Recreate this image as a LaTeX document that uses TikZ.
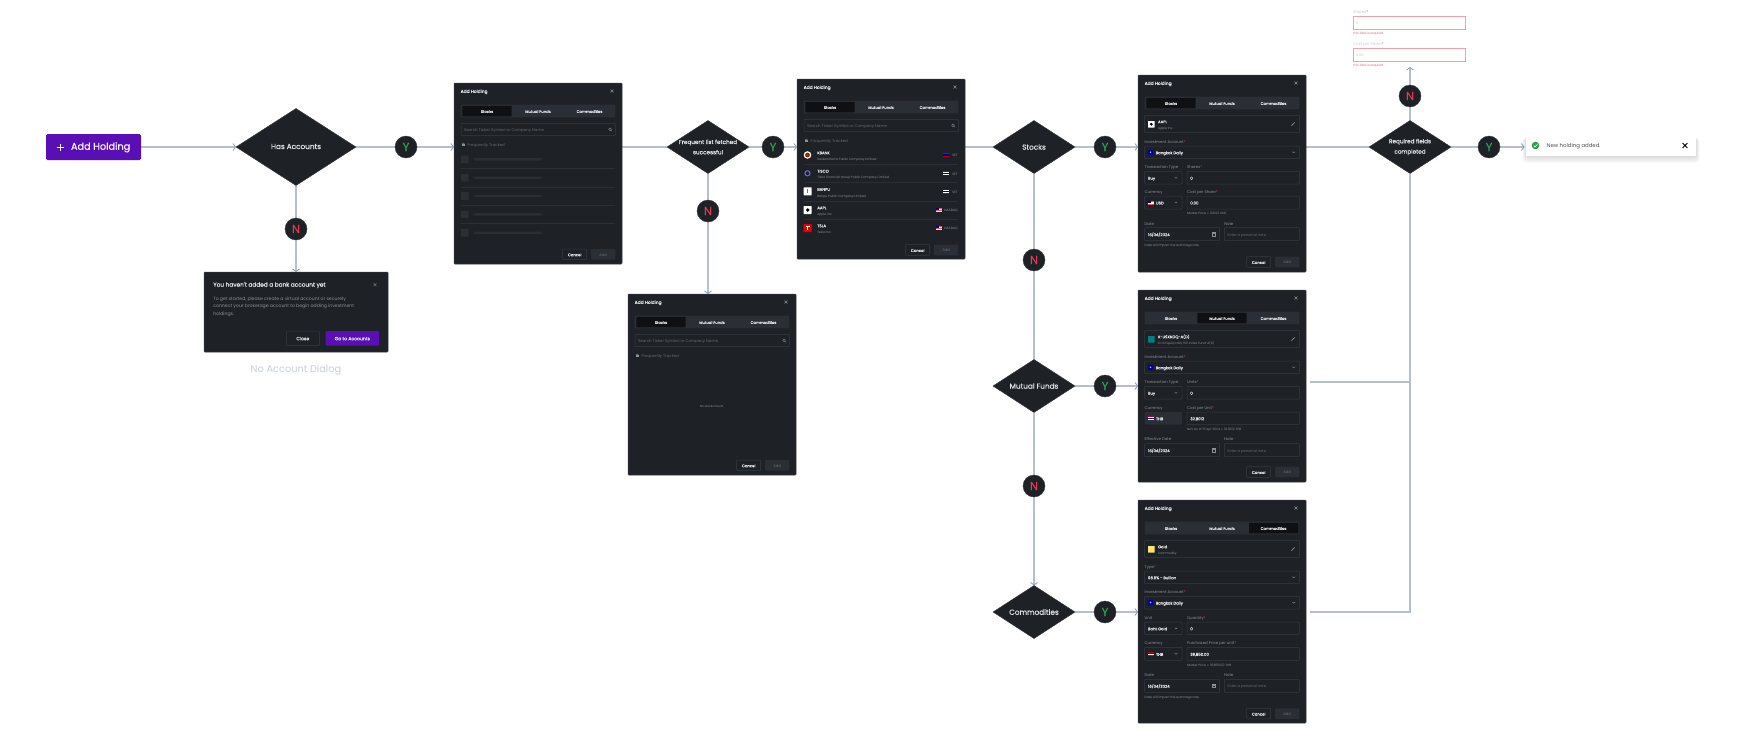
\documentclass[tikz,border=0pt]{standalone}
\usepackage{fontspec}
\setmainfont{Poppins}
\newfontfamily\medfont{Poppins}[FakeBold=0.35]
\usetikzlibrary{shapes.geometric,arrows.meta}
\definecolor{ink}{HTML}{1E2227}
\definecolor{edge}{HTML}{363B42}
\definecolor{tabbg}{HTML}{2A2F36}
\definecolor{tabon}{HTML}{0E1013}
\definecolor{conncol}{HTML}{B5C0CD}
\definecolor{tipcol}{HTML}{8E9CAE}
\definecolor{labcol}{HTML}{8B9199}
\definecolor{valcol}{HTML}{E4E6E9}
\definecolor{phcol}{HTML}{646A72}
\definecolor{reqred}{HTML}{E5484D}
\definecolor{btnpurple}{HTML}{5A0FB6}
\definecolor{yescol}{HTML}{2E9E4F}
\definecolor{nocol}{HTML}{E5395A}
\definecolor{errline}{HTML}{F2A0AC}
\definecolor{errtext}{HTML}{E5607A}
\definecolor{softlab}{HTML}{C8CFDA}
\pgfdeclarelayer{under}\pgfsetlayers{under,main}
\newcounter{tc}
\tikzset{
  fs/.style={font=\fontsize{#1}{#1}\selectfont},
  txt/.style={inner sep=0pt,outer sep=0pt,anchor=mid west,text=labcol,yshift=.8pt},
  val/.style={text=valcol,execute at begin node=\medfont},
  conn/.style={draw=conncol,line width=1.5pt},
  conna/.style={conn,-{Straight Barb[length=2.6pt,width=7pt,line width=.8pt,color=tipcol]}},
  dlgbox/.style={draw=edge,line width=.5pt,fill=ink,rounded corners=.8pt,inner sep=0pt,outer sep=0pt,minimum width=168pt,anchor=north west},
  dec/.style={diamond,fill=ink,draw=edge,line width=.4pt,inner sep=0pt,outer sep=0pt},
  dectext/.style={inner sep=0pt,text=valcol,align=center,font=\medfont\fontsize{7.3}{10.3}\selectfont},
  dectwo/.style={dectext,font=\medfont\fontsize{5.7}{10.3}\selectfont},
  yn/.style={circle,fill=ink,draw=edge,line width=.4pt,minimum size=22pt,inner sep=0pt,outer sep=0pt,font=\medfont\fontsize{11.5}{11.5}\selectfont},
  field/.style={draw=edge,line width=.5pt,rounded corners=.8pt},
  icon/.style={draw=labcol,line width=.4pt},
  errbox/.style={draw=errline,line width=.8pt,fill=white,inner sep=0pt,outer sep=0pt,anchor=north west,minimum width=112.5pt,minimum height=13pt},
}
\newcommand{\tx}[5][]{\stepcounter{tc}\node[txt,fs=#4,#1] (t\thetc) at (#2,#3) {#5};}
\newcommand{\closex}[2]{\draw[icon] (#1-1.4,#2-1.4) -- (#1+1.4,#2+1.4) (#1-1.4,#2+1.4) -- (#1+1.4,#2-1.4);}
\newcommand{\chev}[2]{\draw[icon] (#1-1.3,#2-.6) -- (#1,#2+.6) -- (#1+1.3,#2-.6);}
\newcommand{\fb}[4]{\draw[field] (#1,#2) rectangle (#3,#4);}
\newcommand{\req}{\textcolor{reqred}{ *}}
\newcommand{\thflag}[2]{\fill[red!75!black] (#1-3,#2-2) rectangle (#1+3,#2+2);\fill[white] (#1-3,#2-1.3) rectangle (#1+3,#2+1.3);\fill[blue!60!black] (#1-3,#2-.6) rectangle (#1+3,#2+.6);}
\newcommand{\usflag}[2]{\fill[red!70!white] (#1-3,#2-2) rectangle (#1+3,#2+2);\fill[white] (#1-3,#2-.7) rectangle (#1+3,#2+.1);\fill[white] (#1-3,#2+.9) rectangle (#1+3,#2+1.4);\fill[blue!55!black] (#1-3,#2-2) rectangle (#1,#2);}
\newcommand{\lockic}[2]{\fill[labcol] (#1-1.3,#2-.4) rectangle (#1+1.3,#2+1.5);\draw[icon] (#1,#2-.4) circle[radius=1pt];}
\newcommand{\magn}[2]{\draw[icon] (#1,#2) circle[radius=1.4pt] (#1+1,#2+1) -- (#1+2,#2+2);}
\newcommand{\pencil}[2]{\draw[labcol,line width=.7pt] (#1-1.6,#2+1.6) -- (#1+1.6,#2-1.6);}
\newcommand{\calic}[2]{\draw[icon] (#1-1.8,#2-1.8) rectangle (#1+1.8,#2+1.8) (#1-1.8,#2-.7) -- (#1+1.8,#2-.7);}
% header common to all dialogs; #1 active tab
\newcommand{\dlghead}[1]{%
  \tx[val]{6.7}{8}{4.4}{Add Holding}
  \closex{158}{8}
  \fill[tabbg,rounded corners=.8pt] (6.7,21.7) rectangle (161.3,34.3);
  \ifcase#1\or
    \fill[tabon,rounded corners=.6pt] (8.3,22.8) rectangle (57.7,33.3);
  \or
    \fill[tabon,rounded corners=.6pt] (59.3,22.8) rectangle (108.7,33.3);
  \or
    \fill[tabon,rounded corners=.6pt] (111,22.8) rectangle (160.3,33.3);
  \fi
  \tx[anchor=mid,val]{33}{28}{3.8}{Stocks}
  \tx[anchor=mid,val]{84}{28}{3.8}{Mutual Funds}
  \tx[anchor=mid,val]{135.5}{28}{3.8}{Commodities}
}
\newcommand{\btns}[1]{%
  \fb{108.7}{#1}{132.7}{#1+10.6}
  \tx[anchor=mid,val]{120.7}{#1+5.3}{3.8}{Cancel}
  \fill[tabbg,rounded corners=.8pt] (137,#1) rectangle (161.3,#1+10.6);
  \tx[anchor=mid,text=phcol]{149.2}{#1+5.3}{3.8}{Add}
}
\newcommand{\acct}[1]{%
  \fb{6.7}{#1}{161.3}{#1+12.7}
  \fill[blue!60!black,rounded corners=.5pt] (10,#1+3.8) rectangle (15,#1+8.8);
  \fill[white!70!blue] (12.5,#1+6.3) circle[radius=.9pt];
  \tx[val]{17.7}{#1+6.3}{3.9}{Bangkok Daily}
  \chev{155.7}{#1+6.3}
}
\newcommand{\searchrow}{%
  \fb{7}{40.3}{161.3}{52.7}
  \tx[text=phcol]{10}{46.5}{3.9}{Search Ticker Symbol or Company Name}
  \magn{156}{46.3}
  \lockic{9.3}{61.3}
  \tx[text=phcol]{13.7}{61.3}{3.9}{Frequently Tracked}
}
\newcommand{\skel}[1]{%
  \fill[tabbg,rounded corners=.5pt] (7,#1-3.8) rectangle (14.7,#1+3.8);
  \fill[tabbg,rounded corners=.8pt] (20,#1-1.2) rectangle (87.7,#1+1.2);
}
\newcommand{\stockrow}[4]{%
  \tx[val]{20.3}{#1-2.7}{3.9}{#2}
  \tx[text=labcol]{20.3}{#1+3.7}{3.1}{#3}
  \tx[anchor=mid east,text=labcol]{160.7}{#1}{3.2}{#4}
}
\begin{document}
\begin{tikzpicture}[x=1pt,y=-1pt]
\begin{pgfonlayer}{under}
\fill[white] (0,0) rectangle (1742,747);
\end{pgfonlayer}
\path[use as bounding box] (0,0) rectangle (1742,747);

% start button
\node[fill=btnpurple,rounded corners=1.5pt,minimum width=95pt,minimum height=26pt,inner sep=0pt,outer sep=0pt] (add) at (93.5,147) {};
\draw[white,line width=.9pt] (56.5,147) -- (63.5,147) (60,143.5) -- (60,150.5);
\tx[text=white,execute at begin node=\medfont]{71}{147.8}{9.7}{Add Holding}

% decisions
\node[dec,minimum width=120pt,minimum height=77pt] (hasacc) at (296,147) {};
\node[dectext] (hasacct) at ([yshift=.5pt]hasacc.center) {Has Accounts};
\node[dec,minimum width=82pt,minimum height=53pt] (freq) at (708,147) {};
\node[dectwo] (freqt) at (freq) {Frequent list fetched\\successful};
\node[dec,minimum width=82pt,minimum height=53pt] (stocks) at (1034,147) {};
\node[dectext] (stockst) at (stocks) {Stocks};
\node[dec,minimum width=82pt,minimum height=53pt] (mutual) at (1034,386) {};
\node[dectext] (mutualt) at (mutual) {Mutual Funds};
\node[dec,minimum width=82pt,minimum height=53pt] (commod) at (1034,612) {};
\node[dectext] (commodt) at (commod) {Commodities};
\node[dec,minimum width=82pt,minimum height=53pt] (reqd) at (1410,147) {};
\node[dectwo] (reqdt) at (reqd) {Required fields\\completed};

% yes / no badges
\node[yn,text=yescol] (y1) at (406,147) {Y};
\node[yn,text=nocol]  (n1) at (296,229) {N};
\node[yn,text=yescol] (y2) at (773,147) {Y};
\node[yn,text=nocol]  (n2) at (708,211) {N};
\node[yn,text=yescol] (y3) at (1105,147) {Y};
\node[yn,text=nocol]  (n3) at (1034,260) {N};
\node[yn,text=yescol] (y4) at (1105,386) {Y};
\node[yn,text=nocol]  (n4) at (1034,486) {N};
\node[yn,text=yescol] (y5) at (1105,612) {Y};
\node[yn,text=yescol] (y6) at (1489,147) {Y};
\node[yn,text=nocol]  (n6) at (1410,96) {N};

% no account dialog
\node[dlgbox,minimum width=184pt,minimum height=80pt] (noacc) at (204,272) {};
\begin{scope}[shift={(204,272)}]
  \tx[val]{9.3}{12.7}{5.8}{You haven't added a bank account yet}
  \closex{171}{12.7}
  \tx{9.3}{26.3}{4.6}{To get started, please create a virtual account or securely}
  \tx{9.3}{33.7}{4.6}{connect your brokerage account to begin adding investment}
  \tx{9.3}{41.3}{4.6}{holdings.}
  \fb{82.3}{59}{115.3}{73.7}
  \tx[anchor=mid,val]{98.8}{66.3}{4.6}{Close}
  \fill[btnpurple,rounded corners=.8pt] (121.7,59) rectangle (175,73.7);
  \tx[anchor=mid,val]{148.3}{66.3}{4.6}{Go to Accounts}
\end{scope}
\tx[anchor=mid,text=softlab]{296}{370.3}{9.8}{No Account Dialog}

% loading dialog
\node[dlgbox,minimum height=181pt] (load) at (454,83) {};
\begin{scope}[shift={(454,83)}]
  \dlghead{1}
  \searchrow
  \skel{76.3}\skel{94.7}\skel{113}\skel{131.3}\skel{149.7}
  \foreach \ly in {85.3,103.7,122,140.3}{\draw[tabbg,line width=.25pt] (7,\ly) -- (161.3,\ly);}
  \btns{166}
\end{scope}

% empty dialog
\node[dlgbox,minimum height=181pt] (empty) at (628,294) {};
\begin{scope}[shift={(628,294)}]
  \dlghead{1}
  \searchrow
  \tx[anchor=mid,text=labcol]{83.5}{111.7}{2.9}{No stocks found}
  \btns{166}
\end{scope}

% list dialog
\node[dlgbox,minimum height=180pt] (list) at (797,79) {};
\begin{scope}[shift={(797,79)}]
  \dlghead{1}
  \searchrow
  \stockrow{76}{KBANK}{Kasikornbank Public Company Limited}{SET}
  \stockrow{94.3}{TISCO}{Tisco Financial Group Public Company Limited}{SET}
  \stockrow{112.6}{BANPU}{Banpu Public Company Limited}{SET}
  \stockrow{131}{AAPL}{Apple Inc.}{NASDAQ}
  \stockrow{149}{TSLA}{Tesla Inc.}{NASDAQ}
  \foreach \ly in {85.3,103.5,121.8,140}{\draw[tabbg,line width=.25pt] (7,\ly) -- (161.3,\ly);}
  \fill[white] (10.5,76) circle[radius=3.8pt];
  \fill[red!80!black] (10.5,76) circle[radius=2.4pt];
  \fill[green!55!black] (10.5,76) circle[radius=1.3pt];
  \draw[blue!60!white,line width=1pt] (10.5,94.3) circle[radius=2.6pt];
  \fill[white,rounded corners=.5pt] (6.7,108.3) rectangle (14.7,116.3);
  \fill[blue!60!white] (10,110.3) rectangle (11.4,114.3);
  \fill[white,rounded corners=.5pt] (6.7,127) rectangle (14.7,135);
  \fill[black] (10.7,131) circle[radius=1.8pt];
  \fill[red!90!black,rounded corners=.5pt] (6.7,145) rectangle (14.7,153);
  \draw[white,line width=.7pt] (8.7,147.3) -- (12.7,147.3) (10.7,147.3) -- (10.7,151);
  \thflag{149}{76}\thflag{149}{94.3}\thflag{149}{112.6}
  \usflag{141.7}{131}\usflag{141.7}{149}
  \btns{165.7}
\end{scope}

% stocks form
\node[dlgbox,minimum height=197pt] (fstocks) at (1138,75) {};
\begin{scope}[shift={(1138,75)}]
  \dlghead{1}
  \fb{6.7}{40.3}{161.3}{57.7}
  \fill[white,rounded corners=.4pt] (10,46) rectangle (16.7,52.5);
  \fill[black] (13.3,49.2) circle[radius=1.6pt];
  \tx[val]{20}{46.3}{3.9}{AAPL}
  \tx{20}{52.6}{3.1}{Apple Inc.}
  \pencil{155}{49}
  \tx{6.7}{66.3}{3.9}{Investment Account\req}
  \acct{71}
  \tx{6.7}{92}{3.9}{Transaction Type}
  \tx{49}{92}{3.9}{Shares\req}
  \fb{6.7}{96.3}{44}{109}\fb{49}{96.3}{161.3}{109}
  \tx[val]{10}{102.7}{3.9}{Buy}\chev{38}{102.7}
  \tx[val]{52.3}{102.7}{3.9}{0}
  \tx{6.7}{116.7}{3.9}{Currency}
  \tx{49}{116.7}{3.9}{Cost per Share\req}
  \fb{6.7}{121}{44}{134}\fb{49}{121}{161.3}{134}
  \usflag{13}{127.5}\tx[val]{18}{127.5}{3.9}{USD}\chev{38}{127.5}
  \tx[val]{52.3}{127.5}{3.9}{0.00}
  \tx{49}{137.7}{3.1}{Market Price = 100.00 USD}
  \tx{6.7}{148.3}{3.9}{Date}
  \tx{86.3}{148.3}{3.9}{Note}
  \fb{6.7}{152.7}{81.7}{165.7}\fb{86.3}{152.7}{161.3}{165.7}
  \tx[val]{10}{159.2}{3.9}{16/04/2024}\calic{75.7}{159.2}
  \tx[text=phcol]{89.7}{159.2}{3.6}{Enter a personal note}
  \tx{6.7}{169.7}{3.1}{Date will impact the exchange rate.}
  \btns{181.7}
\end{scope}

% mutual funds form
\node[dlgbox,minimum height=192pt] (fmutual) at (1138,290) {};
\begin{scope}[shift={(1138,290)}]
  \dlghead{2}
  \fb{6.7}{40.3}{161.3}{57.7}
  \fill[teal,rounded corners=.4pt] (10,46) rectangle (16.7,52.5);
  \tx[val]{20}{46.3}{3.9}{K-USXNDQ-A(D)}
  \tx{20}{52.6}{3.1}{K US Equity NDQ 100 Index Fund-A(D)}
  \pencil{155}{49}
  \tx{6.7}{66.3}{3.9}{Investment Account\req}
  \acct{71}
  \tx{6.7}{91.7}{3.9}{Transaction Type}
  \tx{49}{91.7}{3.9}{Units\req}
  \fb{6.7}{96.3}{44}{109}\fb{49}{96.3}{161.3}{109}
  \tx[val]{10}{102.7}{3.9}{Buy}\chev{38}{102.7}
  \tx[val]{52.3}{102.7}{3.9}{0}
  \tx{6.7}{117.3}{3.9}{Currency}
  \tx{49}{117.3}{3.9}{Cost per Unit\req}
  \fill[tabbg,rounded corners=.8pt] (6.7,122) rectangle (44,134.7);
  \fb{49}{122}{161.3}{134.7}
  \thflag{13}{128.3}\tx[val]{18}{128.3}{3.9}{THB}
  \tx[val]{52.3}{128.3}{3.9}{32.8012}
  \tx{49}{138.7}{3.1}{NAV as of 15 Apr 2024 = 32.8012 THB}
  \tx{6.7}{149}{3.9}{Effective Date}
  \tx{86.3}{149}{3.9}{Note}
  \fb{6.7}{153.7}{81.7}{166.7}\fb{86.3}{153.7}{161.3}{166.7}
  \tx[val]{10}{160.2}{3.9}{16/04/2024}\calic{75.7}{160.2}
  \tx[text=phcol]{89.7}{160.2}{3.6}{Enter a personal note}
  \btns{176.7}
\end{scope}

% commodities form
\node[dlgbox,minimum height=223pt] (fcommod) at (1138,500) {};
\begin{scope}[shift={(1138,500)}]
  \dlghead{3}
  \fb{6.7}{40.3}{161.3}{57.7}
  \fill[orange!40!yellow!55!white,rounded corners=.4pt] (10,46) rectangle (16.7,52.5);
  \tx[val]{20}{46.3}{3.9}{Gold}
  \tx{20}{52.6}{3.1}{Commodity}
  \pencil{155}{49}
  \tx{6.7}{66.3}{3.9}{Type\req}
  \fb{6.7}{71}{161.3}{83.7}
  \tx[val]{10}{77.3}{3.9}{96.5\% - Bullion}\chev{155.7}{77.3}
  \tx{6.7}{91.3}{3.9}{Investment Account\req}
  \acct{96.3}
  \tx{6.7}{117.3}{3.9}{Unit}
  \tx{49}{117.3}{3.9}{Quantity\req}
  \fb{6.7}{122}{44}{134.7}\fb{49}{122}{161.3}{134.7}
  \tx[val]{10}{128.3}{3.9}{Baht Gold}\chev{38}{128.3}
  \tx[val]{52.3}{128.3}{3.9}{0}
  \tx{6.7}{142.7}{3.9}{Currency}
  \tx{49}{142.7}{3.9}{Purchased Price per unit\req}
  \fb{6.7}{147.3}{44}{160.3}\fb{49}{147.3}{161.3}{160.3}
  \thflag{13}{153.8}\tx[val]{18}{153.8}{3.9}{THB}\chev{38}{153.8}
  \tx[val]{52.3}{153.8}{3.9}{39,850.00}
  \tx{49}{164.3}{3.1}{Market Price = 39,850.00 THB}
  \tx{6.7}{174.7}{3.9}{Date}
  \tx{86.3}{174.7}{3.9}{Note}
  \fb{6.7}{179.3}{81.7}{192.3}\fb{86.3}{179.3}{161.3}{192.3}
  \tx[val]{10}{185.8}{3.9}{16/04/2024}\calic{75.7}{185.8}
  \tx[text=phcol]{89.7}{185.8}{3.6}{Enter a personal note}
  \tx{6.7}{196.3}{3.1}{Date will impact the exchange rate.}
  \btns{208.3}
\end{scope}

% error fields
\tx[text=softlab]{1353}{11.3}{3.9}{Shares\req}
\node[errbox] (errshares) at (1353,16) {};
\tx[text=softlab]{1356}{22.3}{3.6}{0}
\tx[text=errtext]{1353}{33}{3.1}{This field is required}
\tx[text=softlab]{1353}{43.5}{3.9}{Cost per Share\req}
\node[errbox] (errcost) at (1353,48) {};
\tx[text=softlab]{1356}{54.3}{3.6}{0.00}
\tx[text=errtext]{1353}{65}{3.1}{This field is required}

% toast
\foreach \gr in {7,6,5,4,3,2,1}{\fill[black,opacity=.02,rounded corners=3pt] (1526-\gr*.5,138) rectangle (1696+\gr*.5,156+\gr);}
\node[fill=white,inner sep=0pt,outer sep=0pt,minimum width=170pt,minimum height=22pt,anchor=north west] (toast) at (1526,134) {};
\fill[yescol] (1535.5,145.5) circle[radius=3.8pt];
\draw[white,line width=.6pt] (1533.7,145.6) -- (1535,146.9) -- (1537.5,144.3);
\tx[text=ink!80!white]{1546.7}{145.3}{5.4}{New holding added.}
\draw[black,line width=.9pt] (1682.6,143) -- (1687.4,148) (1682.6,148) -- (1687.4,143);

% connectors
\coordinate (mfout) at (1310,382);
\coordinate (coout) at (1310,612);
\coordinate (errs) at (1410,67);
\begin{pgfonlayer}{under}
\draw[conna] (add.east) -- (hasacc.west);
\draw[conn] (hasacc.east) -- (y1);
\draw[conna] (y1) -- (y1 -| load.west);
\draw[conna] (hasacc.south) -- (n1) -- (noacc.north);
\draw[conn] (load.east |- freq.west) -- (freq.west);
\draw[conn] (freq.east) -- (y2);
\draw[conna] (y2) -- (y2 -| list.west);
\draw[conn] (freq.south) -- (n2);
\draw[conna] (n2) -- (n2 |- empty.north);
\draw[conn] (list.east |- stocks.west) -- (stocks.west);
\draw[conn] (stocks.east) -- (y3);
\draw[conna] (y3) -- (y3 -| fstocks.west);
\draw[conn] (stocks.south) -- (n3) -- (mutual.north);
\draw[conn] (mutual.east) -- (y4);
\draw[conna] (y4) -- (y4 -| fmutual.west);
\draw[conn] (mutual.south) -- (n4);
\draw[conna] (n4) -- (commod.north);
\draw[conn] (commod.east) -- (y5);
\draw[conna] (y5) -- (y5 -| fcommod.west);
\draw[conn] (fstocks.east |- reqd.west) -- (reqd.west);
\draw[conn] (mfout) -- (mfout -| reqd.south);
\draw[conn] (coout) -- (coout -| reqd.south) -- (reqd.south);
\draw[conn] (reqd.east) -- (y6);
\draw[conna,shorten >=1.5pt] (y6) -- (y6 -| toast.west);
\draw[conn] (reqd.north) -- (n6);
\draw[conna] (n6) -- (errs);
\end{pgfonlayer}
\end{tikzpicture}
\end{document}
